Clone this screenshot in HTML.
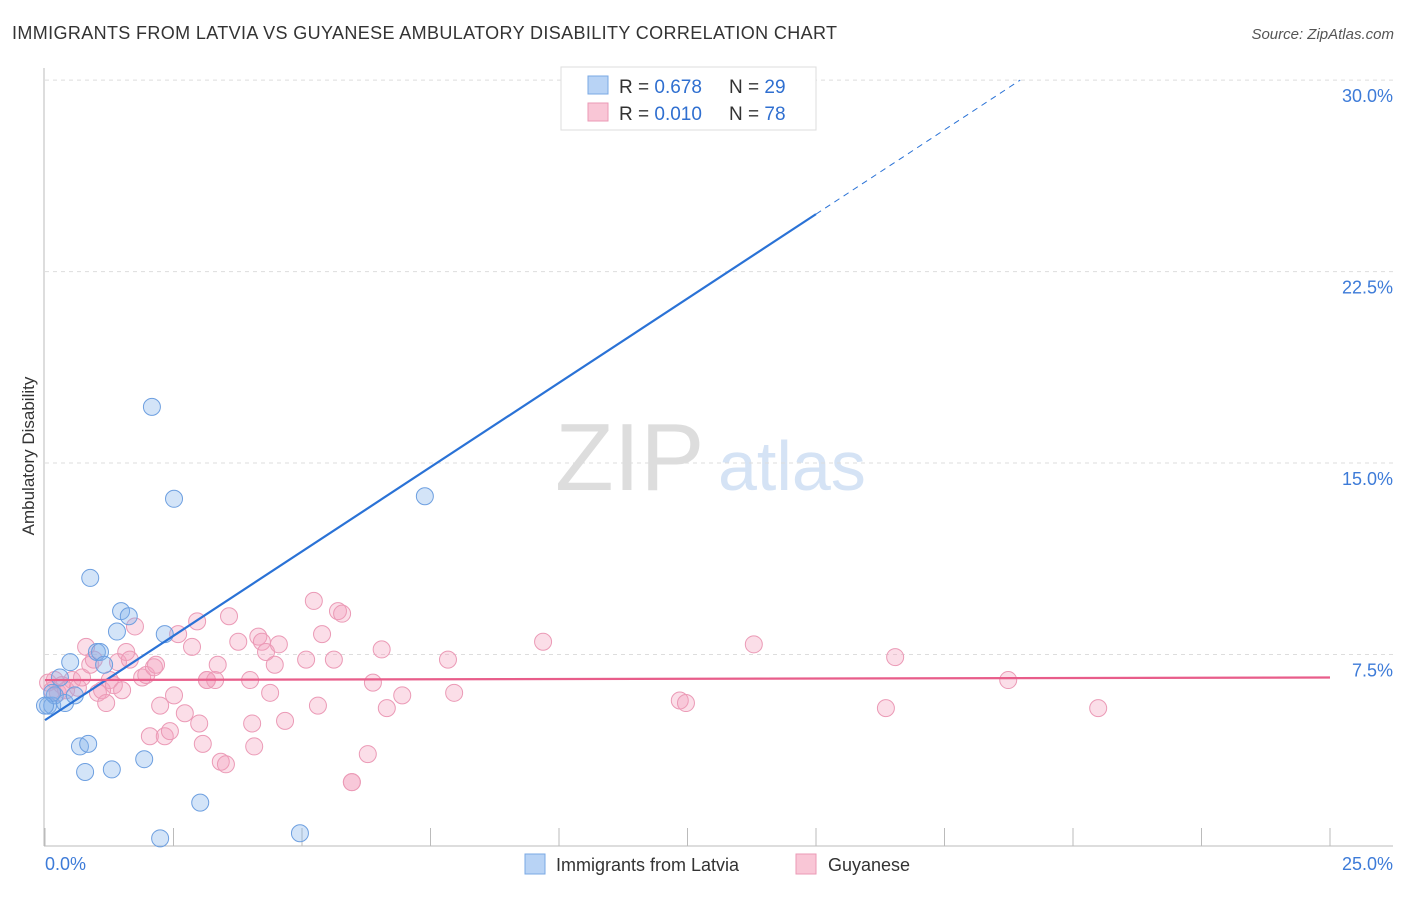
<!DOCTYPE html>
<html><head><meta charset="utf-8">
<style>
body{margin:0;background:#fff;font-family:"Liberation Sans",sans-serif;}
svg text{font-family:"Liberation Sans",sans-serif;}
</style></head>
<body>
<svg id="chart" width="1406" height="892" xmlns="http://www.w3.org/2000/svg">
<text x="12" y="39" font-size="18" fill="#333" textLength="825">IMMIGRANTS FROM LATVIA VS GUYANESE AMBULATORY DISABILITY CORRELATION CHART</text>
<text x="1394" y="39" font-size="15" fill="#555" text-anchor="end" font-style="italic">Source: ZipAtlas.com</text>
<text x="555" y="490" font-size="96" fill="#ddd" font-family="Liberation Serif">ZIP</text>
<text x="718" y="490" font-size="70" fill="#d5e3f5">atlas</text>
<text transform="translate(34,456) rotate(-90)" font-size="17" fill="#333" text-anchor="middle">Ambulatory Disability</text>
<g id="grid"></g>
<g id="axes"></g>
<g id="pts"></g>
<g id="lines"></g>
<g>
<rect x="561" y="67" width="255" height="63" fill="#fff" stroke="#ddd"/>
<rect x="588" y="76" width="20" height="18" fill="#b8d3f5" stroke="#7aa8e4"/>
<text x="619" y="93" font-size="19" fill="#333">R = <tspan fill="#2f6fd0">0.678</tspan></text>
<text x="729" y="93" font-size="19" fill="#333">N = <tspan fill="#2f6fd0">29</tspan></text>
<rect x="588" y="103" width="20" height="18" fill="#f9c6d6" stroke="#eb9ab6"/>
<text x="619" y="120" font-size="19" fill="#333">R = <tspan fill="#2f6fd0">0.010</tspan></text>
<text x="729" y="120" font-size="19" fill="#333">N = <tspan fill="#2f6fd0">78</tspan></text>
</g>
<g>
<rect x="525" y="854" width="20" height="20" fill="#b8d3f5" stroke="#7aa8e4"/>
<text x="556" y="871" font-size="18" fill="#333">Immigrants from Latvia</text>
<rect x="796" y="854" width="20" height="20" fill="#f9c6d6" stroke="#eb9ab6"/>
<text x="828" y="871" font-size="18" fill="#333">Guyanese</text>
</g>
</svg>
<script>
const blueX=[0.06,0.14,0.19,0.29,0.39,0.49,0.58,0.68,0.78,0.84,0.88,1.01,1.07,1.15,1.30,1.40,1.48,1.63,1.93,2.08,2.24,2.33,2.51,3.02,4.96,7.39,14.34,0.14,0.0];
const blueY=[5.5,5.5,5.9,6.6,5.6,7.2,5.9,3.9,2.9,4.0,10.5,7.6,7.6,7.1,3.0,8.4,9.2,9.0,3.4,17.2,0.3,8.3,13.6,1.7,0.5,13.7,28.4,6.0,5.5];
const pinkX=[0.06,0.14,0.19,0.25,0.33,0.41,0.53,0.64,0.72,0.80,0.88,0.95,1.03,1.11,1.19,1.26,1.34,1.42,1.50,1.58,1.65,1.75,1.89,1.97,2.04,2.12,2.16,2.24,2.33,2.43,2.51,2.59,2.72,2.86,2.96,3.00,3.07,3.15,3.15,3.31,3.36,3.42,3.52,3.58,3.76,3.99,4.03,4.07,4.15,4.22,4.30,4.38,4.47,4.55,4.67,5.08,5.23,5.31,5.39,5.62,5.70,5.78,5.97,5.97,6.28,6.38,6.55,6.65,6.95,7.84,7.96,9.69,12.35,12.47,13.79,16.36,16.54,18.74,20.49];
const pinkY=[6.4,6.1,6.5,6.0,6.3,6.1,6.5,6.2,6.6,7.8,7.1,7.3,6.0,6.1,5.6,6.5,6.3,7.2,6.1,7.6,7.3,8.6,6.6,6.7,4.3,7.0,7.1,5.5,4.3,4.5,5.9,8.3,5.2,7.8,8.8,4.8,4.0,6.5,6.5,6.5,7.1,3.3,3.2,9.0,8.0,6.5,4.8,3.9,8.2,8.0,7.6,6.0,7.1,7.9,4.9,7.3,9.6,5.5,8.3,7.3,9.2,9.1,2.5,2.5,3.6,6.4,7.7,5.4,5.9,7.3,6.0,8.0,5.7,5.6,7.9,5.4,7.4,6.5,5.4];
const yTicks=[7.5,15.0,22.5,30.0];
const xTicks=[0,2.5,5,7.5,10,12.5,15,17.5,20,22.5,25];
const blueFit=[4.93,24.75]; // y at x=0 and x=15
const pinkFit=[6.5,6.6];   // y at x=0 and x=25
const NS='http://www.w3.org/2000/svg';
const X=v=>45+v*51.4, Y=v=>846-v*25.53;
function mk(tag,attrs,parent){const e=document.createElementNS(NS,tag);for(const k in attrs)e.setAttribute(k,attrs[k]);parent.appendChild(e);return e;}
const grid=document.getElementById('grid'),axes=document.getElementById('axes'),pts=document.getElementById('pts'),lines=document.getElementById('lines');
yTicks.forEach(t=>{const l=mk('line',{x1:45,x2:1393,y1:Y(t),y2:Y(t),stroke:'#ddd','stroke-dasharray':'4,4'},grid);

const tx=mk('text',{x:1393,y:Y(t)+22,'font-size':18,fill:'#3d7bd8','text-anchor':'end'},grid);tx.textContent=t.toFixed(1)+'%';
});
const ax=mk('line',{x1:44,x2:44,y1:68,y2:846,stroke:'#bbb'},axes);
const bx=mk('line',{x1:44,x2:1393,y1:846,y2:846,stroke:'#bbb'},axes);
xTicks.forEach(t=>{const l=mk('line',{x1:X(t),x2:X(t),y1:828,y2:846,stroke:'#bbb'},axes);});
[[0,'0.0%','start',45],[25,'25.0%','end',1393]].forEach(a=>{const t=mk('text',{x:a[3],y:870,'font-size':18,fill:'#3d7bd8','text-anchor':a[2]},axes);t.textContent=a[1];});
pinkX.forEach((x,i)=>{const c=mk('circle',{cx:X(x),cy:Y(pinkY[i]),r:8.5,fill:'rgba(244,160,188,0.35)',stroke:'#eb9ab6','stroke-width':1},pts);});
blueX.forEach((x,i)=>{const c=mk('circle',{cx:X(x),cy:Y(blueY[i]),r:8.5,fill:'rgba(130,178,235,0.35)',stroke:'#6d9fe0','stroke-width':1},pts);});
const sl=(blueFit[1]-blueFit[0])/15;
const b1=mk('line',{x1:X(0),y1:Y(blueFit[0]),x2:X(15),y2:Y(blueFit[1]),stroke:'#2a72d6','stroke-width':2.2},lines);
const xe=(30.0-blueFit[0])/sl;
const b2=mk('line',{x1:X(15),y1:Y(blueFit[1]),x2:X(xe),y2:Y(blueFit[0]+sl*xe),stroke:'#2a72d6','stroke-width':1,'stroke-dasharray':'6,5'},lines);
const p1=mk('line',{x1:X(0),y1:Y(pinkFit[0]),x2:X(25),y2:Y(pinkFit[1]),stroke:'#e85d8a','stroke-width':2.2},lines);
</script>
</body></html>
